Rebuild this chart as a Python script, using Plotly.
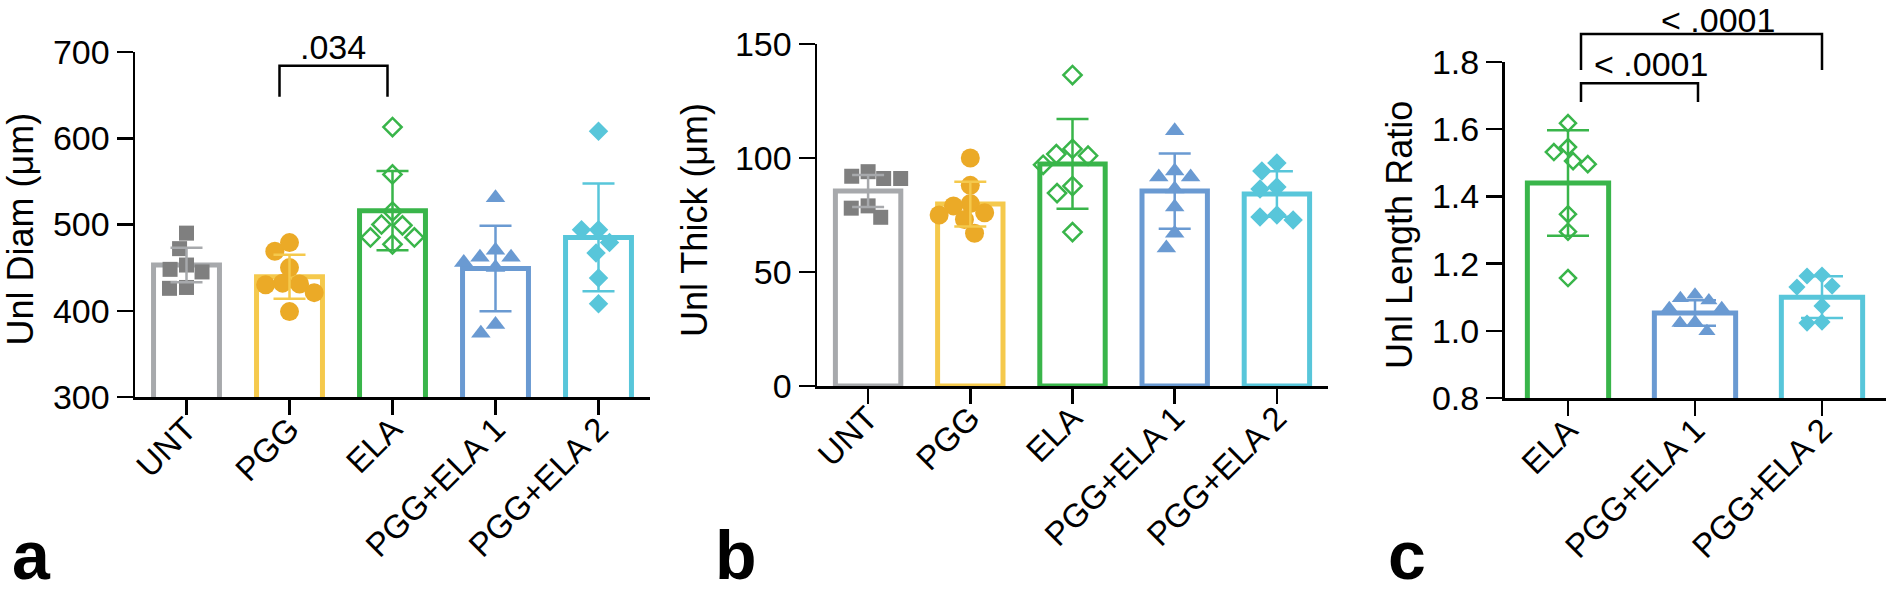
import math
import plotly.graph_objects as go

# ---------------- data ----------------
groups_ab = ["UNT", "PGG", "ELA", "PGG+ELA 1", "PGG+ELA 2"]
groups_c = ["ELA", "PGG+ELA 1", "PGG+ELA 2"]

# Panel a: Unl Diam (um)
diam_mean = [453, 439.5, 516, 449, 485]
diam_sd = [20, 25.5, 46, 49.5, 62.5]
diam_UNT = [490, 472, 448, 453, 445, 427, 426]
diam_PGG = [469, 479, 450, 432, 430, 431, 421, 399]
diam_ELA = [613, 558, 515, 500, 499, 485, 485, 477]
diam_PE1 = [531, 462, 470, 456, 462, 450, 384, 374]
diam_PE2 = [608, 494, 494, 479, 467, 438, 408]

# Panel b: Unl Thick (um)
thick_mean = [85.5, 79.8, 97.4, 85.5, 84.2]
thick_sd = [7, 9.8, 19.7, 16.5, 10]
thick_UNT = [92, 91, 91, 94, 79, 78, 74]
thick_PGG = [100, 88, 80, 79, 75, 76, 73, 67]
thick_ELA = [136.4, 104, 101, 101.7, 97, 87.7, 84.6, 67.5]
thick_PE1 = [112, 94.3, 91.7, 91.7, 86.4, 78.5, 67, 60.5]
thick_PE2 = [97.8, 94.3, 87.3, 86.4, 75, 72.8, 74.1]

# Panel c: Unl Length Ratio
ratio_mean = [1.44, 1.053, 1.10]
ratio_sd = [0.157, 0.038, 0.062]
ratio_ELA = [1.618, 1.532, 1.547, 1.496, 1.505, 1.347, 1.295, 1.157]
ratio_PE1 = [1.107, 1.097, 1.09, 1.067, 1.067, 1.026, 1.023, 0.999]
ratio_PE2 = [1.166, 1.163, 1.133, 1.13, 1.074, 1.023, 1.026]

# significance brackets: (group from, group to, bracket y, leg bottom y, label)
sig_a = [("PGG", "ELA", 684, 648, ".034")]
sig_c = [("ELA", "PGG+ELA 1", 1.737, 1.681, "&lt; .0001"),
         ("ELA", "PGG+ELA 2", 1.883, 1.776, "&lt; .0001")]

# ---------------- styles ----------------
W, H = 1887, 595
FONT = "Liberation Sans, Arial, Helvetica, sans-serif"
style = {
    "UNT": dict(bar="#A7A9AC", mk="#7F7F7F", sym="square", size=15, open=False),
    "PGG": dict(bar="#F5C94C", mk="#EBAA27", sym="circle", size=19, open=False),
    "ELA": dict(bar="#39B54A", mk="#39B54A", sym="diamond-open", size=14, open=True),
    "PGG+ELA 1": dict(bar="#6A9AD2", mk="#6A9AD2", sym="triangle-up", size=17, open=False),
    "PGG+ELA 2": dict(bar="#58C6DA", mk="#58C6DA", sym="diamond", size=15, open=False),
}

# panel geometry in screen pixels: (x0, x1, ybottom, ytop)
# sig_px: (left leg px shift, right leg px shift, label px shift x, label yshift)
panels = [
    dict(name="a", px=(135, 650, 397, 52), yr=(300, 700), dtick=100, cats=groups_ab,
         mean=diam_mean, sd=diam_sd,
         pts=[diam_UNT, diam_PGG, diam_ELA, diam_PE1, diam_PE2],
         title="Unl Diam (μm)", title_x=20, cap=16, diam=17, scale=1.0,
         tickfmt="d", sig=sig_a, letter_x=31,
         sig_px=[(-10, -5, 0, -2)]),
    dict(name="b", px=(817, 1328, 386, 44), yr=(0, 150), dtick=50, cats=groups_ab,
         mean=thick_mean, sd=thick_sd,
         pts=[thick_UNT, thick_PGG, thick_ELA, thick_PE1, thick_PE2],
         title="Unl Thick (μm)", title_x=694, cap=16, diam=17, scale=1.0,
         tickfmt="d", sig=[], letter_x=736, sig_px=[]),
    dict(name="c", px=(1504.5, 1885.5, 398, 62), yr=(0.8, 1.8), dtick=0.2, cats=groups_c,
         mean=ratio_mean, sd=ratio_sd,
         pts=[ratio_ELA, ratio_PE1, ratio_PE2],
         title="Unl Length Ratio", title_x=1400, cap=21, diam=15, scale=0.88,
         tickfmt=".1f", sig=sig_c, letter_x=1407,
         sig_px=[(13, 3, 11, -2), (13, 0, 16, -7)]),
]


def fx(sx):
    """screen x pixel -> paper fraction"""
    return sx / W


def fy(sy):
    """screen y pixel -> paper fraction"""
    return 1 - sy / H


def beeswarm(vals, ypx_per_unit, d):
    """Return horizontal pixel offsets so markers of diameter d don't overlap."""
    order = sorted(range(len(vals)), key=lambda i: -vals[i])
    placed = []
    offs = [0.0] * len(vals)
    for i in order:
        y = vals[i] * ypx_per_unit
        cands = [0.0]
        for (xj, yj) in placed:
            dy = abs(y - yj)
            if dy < d:
                dx = math.sqrt(d * d - dy * dy)
                cands += [xj + dx, xj - dx]
        cands.sort(key=lambda c: (abs(c), c))
        for c in cands:
            ok = all((c - xj) ** 2 + (y - yj) ** 2 >= d * d - 1e-6 for (xj, yj) in placed)
            if ok:
                offs[i] = c
                placed.append((c, y))
                break
    return offs


fig = go.Figure()
layout = dict(width=W, height=H, margin=dict(l=0, r=0, t=0, b=0, pad=0, autoexpand=False),
              paper_bgcolor="white", plot_bgcolor="white", showlegend=False,
              template="none", hovermode=False,
              font=dict(family=FONT, size=33, color="black"))
annotations = []
shapes = []

for k, p in enumerate(panels):
    sfx = "" if k == 0 else str(k + 1)
    xa, ya = "x" + sfx, "y" + sfx
    x0, x1, yb, yt = p["px"]
    ncat = len(p["cats"])
    spacing = (x1 - x0) / ncat
    ypx = (yb - yt) / (p["yr"][1] - p["yr"][0])
    idx = list(range(ncat))

    def cat_sx(i, dpx=0.0):
        return x0 + (i + 0.5) * spacing + dpx

    def val_sy(v):
        return yb - (v - p["yr"][0]) * ypx

    # bars
    for i, g in enumerate(p["cats"]):
        st = style[g]
        fig.add_trace(go.Bar(x=[i], y=[p["mean"][i]], xaxis=xa, yaxis=ya, width=0.64,
                             marker=dict(color="rgba(255,255,255,0)",
                                         line=dict(color=st["bar"], width=5))))
    # points
    for i, g in enumerate(p["cats"]):
        st = style[g]
        vals = p["pts"][i]
        offs = beeswarm(vals, ypx, p["diam"])
        xs = [i + o / spacing for o in offs]
        mk = dict(symbol=st["sym"], size=st["size"] * p["scale"], color=st["mk"])
        if st["open"]:
            mk["line"] = dict(color=st["mk"], width=2.5)
        else:
            mk["line"] = dict(width=0)
        fig.add_trace(go.Scatter(x=xs, y=vals, mode="markers", xaxis=xa, yaxis=ya,
                                 marker=mk, cliponaxis=False))
    # error bars
    for i, g in enumerate(p["cats"]):
        st = style[g]
        fig.add_trace(go.Scatter(x=[i], y=[p["mean"][i]], mode="markers", xaxis=xa, yaxis=ya,
                                 marker=dict(size=1, color="rgba(0,0,0,0)"),
                                 error_y=dict(type="data", array=[p["sd"][i]], visible=True,
                                              color=st["bar"], thickness=2.5, width=p["cap"]),
                                 cliponaxis=False))

    layout["xaxis" + sfx] = dict(
        domain=[fx(x0), fx(x1)], range=[-0.5, ncat - 0.5], anchor=ya, automargin=False,
        tickmode="array", tickvals=idx, ticktext=p["cats"], tickangle=-45,
        showline=True, linecolor="black", linewidth=2.5, ticks="outside",
        ticklen=15, tickwidth=2.5, tickcolor="black", showgrid=False, zeroline=False,
        ticklabelstandoff=-18, fixedrange=True,
        tickfont=dict(family=FONT, size=33, color="black"))
    layout["yaxis" + sfx] = dict(
        domain=[fy(yb), fy(yt)], range=list(p["yr"]), anchor=xa, automargin=False,
        dtick=p["dtick"], tick0=p["yr"][0], tickformat=p["tickfmt"],
        showline=True, linecolor="black", linewidth=2.5, ticks="outside",
        ticklen=16, tickwidth=2.5, tickcolor="black", showgrid=False, zeroline=False,
        fixedrange=True,
        tickfont=dict(family=FONT, size=34, color="black"))

    # y title
    annotations.append(dict(text=p["title"], xref="paper", yref="paper",
                            x=fx(p["title_x"]), y=fy((yb + yt) / 2 + 5), textangle=-90,
                            showarrow=False, xanchor="center", yanchor="middle",
                            font=dict(family=FONT, size=36, color="black")))
    # panel letter
    annotations.append(dict(text="<b>%s</b>" % p["name"], xref="paper", yref="paper",
                            x=fx(p["letter_x"]), y=0.0, showarrow=False,
                            xanchor="center", yanchor="bottom",
                            font=dict(family=FONT, size=68, color="black")))
    # significance brackets (drawn in paper space from data values)
    for (g1, g2, ytop, yleg, lab), (dl, dr, dtext, ysh) in zip(p["sig"], p["sig_px"]):
        i1, i2 = p["cats"].index(g1), p["cats"].index(g2)
        xl, xr = fx(cat_sx(i1, dl)), fx(cat_sx(i2, dr))
        yt_p, yl_p = fy(val_sy(ytop)), fy(val_sy(yleg))
        shapes.append(dict(type="path", xref="paper", yref="paper",
                           path="M %f %f L %f %f L %f %f L %f %f" % (xl, yl_p, xl, yt_p, xr, yt_p, xr, yl_p),
                           line=dict(color="black", width=2.5)))
        annotations.append(dict(text=lab, xref="paper", yref="paper",
                                x=(xl + xr) / 2 + dtext / W, y=yt_p,
                                showarrow=False, xanchor="center", yanchor="bottom", yshift=ysh,
                                font=dict(family=FONT, size=34, color="black")))

layout["annotations"] = annotations
layout["shapes"] = shapes
layout["bargap"] = 0
fig.update_layout(**layout)
fig.write_html("out.html", config={"displayModeBar": False, "staticPlot": True},
               post_script="document.body.style.margin='0';document.body.style.overflow='hidden';")
